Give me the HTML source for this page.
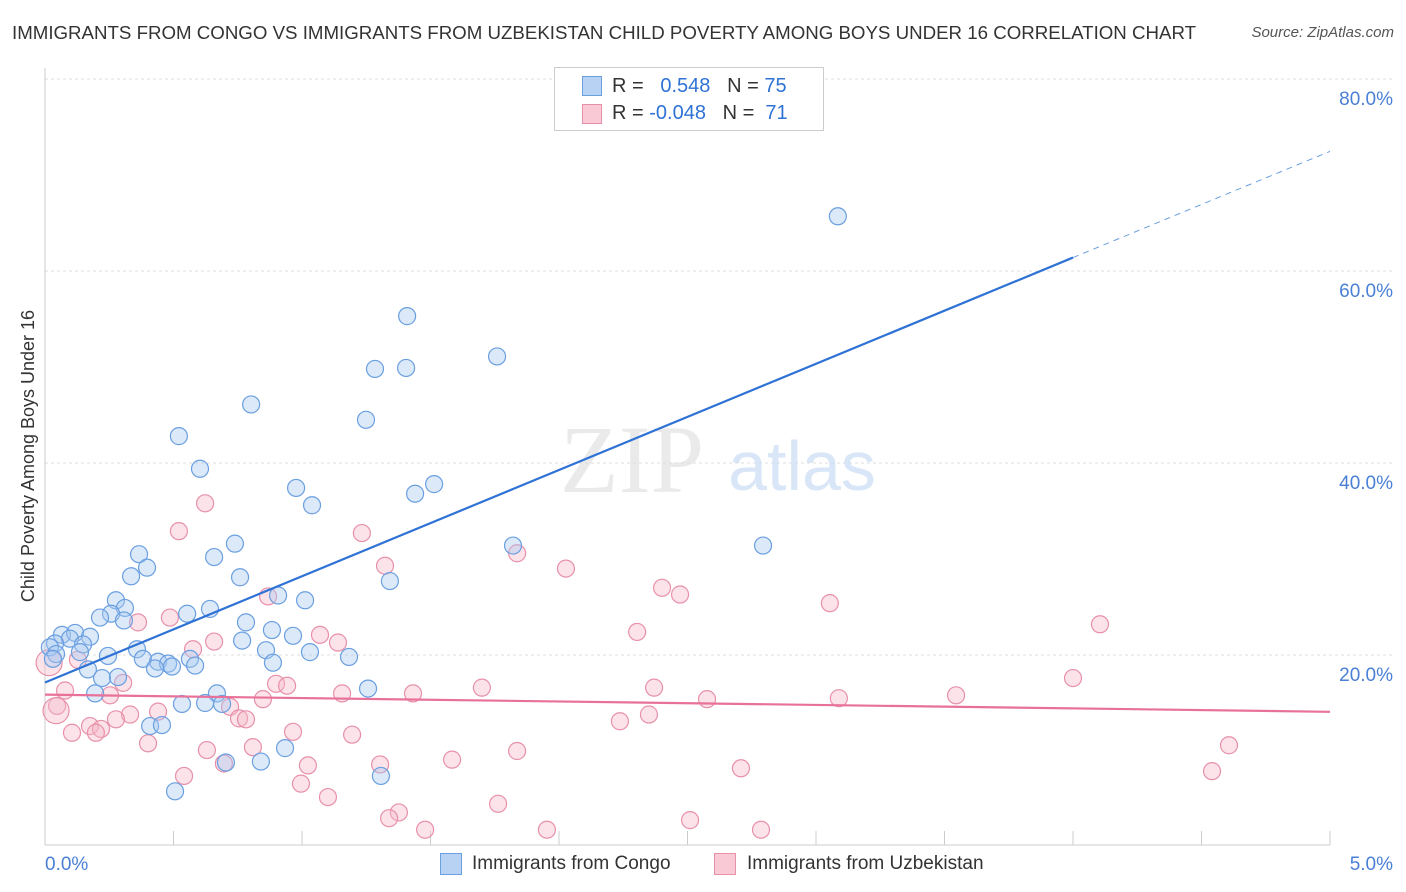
<!DOCTYPE html>
<html><head><meta charset="utf-8"><style>
body{margin:0;background:#fff;font-family:"Liberation Sans",sans-serif;}
#wrap{position:relative;width:1406px;height:892px;overflow:hidden;}
.t{position:absolute;white-space:nowrap;}
</style></head><body>
<div id="wrap">
<div class="t" style="left:12px;top:22px;font-size:18.7px;color:#333;">IMMIGRANTS FROM CONGO VS IMMIGRANTS FROM UZBEKISTAN CHILD POVERTY AMONG BOYS UNDER 16 CORRELATION CHART</div>
<div class="t" style="right:12px;top:24px;font-size:15px;color:#555;font-style:italic;">Source: ZipAtlas.com</div>
<svg id="svg" width="1406" height="892" style="position:absolute;left:0;top:0"></svg>
</div>
<script>
const xTickLabels=["0.0%","5.0%"];
const yTicks=[20,40,60,80];
const yTickLabels=["20.0%","40.0%","60.0%","80.0%"];
const congoX=[3.085,1.409,1.759,1.284,1.405,0.802,1.249,0.521,0.603,1.514,0.977,1.440,1.039,0.739,0.366,0.658,0.397,1.821,2.794,0.759,0.335,1.342,0.276,0.907,1.012,0.311,0.642,0.257,0.214,0.553,0.307,0.782,0.883,0.066,0.117,0.175,0.097,0.965,0.767,0.148,0.358,0.860,1.031,0.039,0.019,1.183,0.136,0.245,0.043,0.381,0.564,0.440,0.887,0.479,0.584,0.167,0.428,0.494,0.031,0.222,0.284,0.195,1.257,0.669,0.533,0.623,0.689,0.409,0.455,0.704,0.840,0.934,1.307,0.506];
const congoY=[65.7,55.3,51.1,49.8,49.9,46.1,44.5,42.8,39.4,37.8,37.4,36.8,35.6,31.6,30.5,30.2,29.1,31.4,31.4,28.1,28.2,27.7,25.7,26.2,25.7,24.9,24.8,24.3,23.9,24.3,23.6,23.4,22.6,22.1,22.3,21.9,21.7,22.0,21.5,21.1,20.6,20.5,20.3,21.2,20.8,19.8,20.3,19.9,20.1,19.6,19.6,19.3,19.2,19.1,18.9,18.5,18.6,18.8,19.6,17.6,17.7,16.0,16.5,16.0,14.9,15.0,14.9,12.6,12.7,8.8,8.9,10.3,7.4,5.8];
const uzbX=[0.623,0.521,1.233,1.837,1.323,2.027,2.401,2.471,0.868,3.054,0.486,0.362,4.105,2.304,1.070,0.658,1.140,0.576,0.128,0.304,4.000,0.899,0.942,1.432,1.156,1.700,2.370,0.253,3.545,2.576,3.089,0.078,0.848,0.440,0.720,0.331,0.755,0.782,0.047,0.965,0.276,0.175,0.218,0.105,0.198,1.195,0.401,0.630,0.809,1.837,2.237,2.350,4.607,1.584,0.696,1.023,1.304,2.708,4.541,0.541,0.996,1.101,1.763,1.377,1.339,2.510,1.479,1.953,2.786,0.016,0.043];
const uzbY=[35.8,32.9,32.7,30.6,29.3,29.0,27.0,26.3,26.1,25.4,23.9,23.4,23.2,22.4,22.1,21.4,21.3,20.6,19.5,17.1,17.6,17.0,16.8,16.0,16.0,16.6,16.6,15.8,15.8,15.4,15.5,16.3,15.4,14.1,14.6,13.8,13.4,13.3,14.7,12.0,13.3,12.6,12.3,11.9,11.9,11.7,10.8,10.1,10.4,10.0,13.1,13.8,10.6,9.1,8.7,8.5,8.6,8.2,7.9,7.4,6.6,5.2,4.5,3.6,3.0,2.8,1.8,1.8,1.8,19.2,14.2];
const X0=45,X1=1330,Y0=847,PY=9.6;
const sx=v=>X0+(X1-X0)*v/5, sy=v=>Y0-v*PY;
const svg=document.getElementById('svg');const NS='http://www.w3.org/2000/svg';
function mk(t,a,p){const e=document.createElementNS(NS,t);for(const k in a)e.setAttribute(k,a[k]);(p||svg).appendChild(e);return e;}
yTicks.forEach((v,i)=>{const g=mk('line',{x1:45,x2:1392,y1:sy(v),y2:sy(v),stroke:'#ddd','stroke-dasharray':'3,3'});


const t=mk('text',{x:1393,y:sy(v)+26,'text-anchor':'end','font-size':19,fill:'#4a7fd6','font-family':'Liberation Sans'});t.textContent=yTickLabels[i];

});
mk('line',{x1:45,x2:45,y1:68,y2:845,stroke:'#ccc'});
mk('line',{x1:45,x2:1330,y1:845,y2:845,stroke:'#ccc'});
for(let i=0;i<=10;i++){const l=mk('line',{x1:sx(i/2),x2:sx(i/2),y1:831,y2:845,stroke:'#ccc'});

}
[[0,45,'start'],[1,1393,'end']].forEach(([i,x,a])=>{const t=mk('text',{x:x,y:870,'text-anchor':a,'font-size':19,fill:'#4a7fd6','font-family':'Liberation Sans'});t.textContent=xTickLabels[i];

});
const yt=mk('text',{x:34,y:456,transform:'rotate(-90 34 456)','text-anchor':'middle','font-size':18,fill:'#333','font-family':'Liberation Sans'});yt.textContent='Child Poverty Among Boys Under 16';

const w1=mk('text',{x:632,y:492,'text-anchor':'middle','font-size':96,fill:'#ddd','font-family':'Liberation Serif','opacity':0.6});w1.textContent='ZIP';

const w2=mk('text',{x:802,y:490,'text-anchor':'middle','font-size':70,fill:'#c8dcf4','font-family':'Liberation Sans','opacity':0.7});w2.textContent='atlas';

function pts(xs,ys,fill,stroke,name){xs.forEach((x,i)=>{const r=(name==='uzbekistan-point'&&i>=69)?13:8.5;const c=mk('circle',{cx:sx(x),cy:sy(ys[i]),r:r,fill:fill,'fill-opacity':0.4,stroke:stroke,'stroke-width':1.2});

});}
pts(uzbX,uzbY,'#f5b8c8','#e890aa','uzbekistan-point');
pts(congoX,congoY,'#a8c8f0','#6a9fe0','congo-point');
function fit(xs,ys){const n=xs.length;let mx=0,my=0;xs.forEach((x,i)=>{mx+=x;my+=ys[i];});mx/=n;my/=n;let sxy=0,sxx=0;xs.forEach((x,i)=>{sxy+=(x-mx)*(ys[i]-my);sxx+=(x-mx)**2;});const b=sxy/sxx;return [my-b*mx,b];}
const [ca,cb]=fit(congoX,congoY);
const bl=mk('line',{x1:sx(0),y1:sy(ca),x2:sx(4),y2:sy(ca+cb*4),stroke:'#2f72d6','stroke-width':2.2});

const bd=mk('line',{x1:sx(4),y1:sy(ca+cb*4),x2:sx(5),y2:sy(ca+cb*5),stroke:'#6a9fe0','stroke-width':1,'stroke-dasharray':'6,5'});

const [ua,ub]=fit(uzbX,uzbY);
const pl=mk('line',{x1:sx(0),y1:sy(ua),x2:sx(5),y2:sy(ua+ub*5),stroke:'#e8719a','stroke-width':2.2});

</script>
<div style="position:absolute;left:554px;top:67px;width:268px;height:62px;border:1px solid #ccc;background:#fff;font-size:20px;">
 <div style="position:absolute;left:27px;top:8px;width:18px;height:18px;background:#b8d2f4;border:1px solid #6a9fe0"></div>
 <div class="t" style="left:57px;top:7px;color:#333">R = <span style="color:#2f72d6">&nbsp;&nbsp;0.548</span>&nbsp;&nbsp;&nbsp;N = <span style="color:#2f72d6">75</span></div>
 <div style="position:absolute;left:27px;top:36px;width:18px;height:18px;background:#f9cad6;border:1px solid #e890aa"></div>
 <div class="t" style="left:57px;top:34px;color:#333">R = <span style="color:#2f72d6">-0.048</span>&nbsp;&nbsp;&nbsp;N = <span style="color:#2f72d6">&nbsp;71</span></div>
</div>
<div style="position:absolute;left:440px;top:852px;font-size:19px;color:#333;">
 <div style="position:absolute;left:0;top:1px;width:20px;height:20px;background:#b8d2f4;border:1px solid #6a9fe0"></div>
 <div class="t" style="left:32px;top:1px">Immigrants from Congo</div>
 <div style="position:absolute;left:274px;top:1px;width:20px;height:20px;background:#f9cad6;border:1px solid #e890aa"></div>
 <div class="t" style="left:307px;top:1px">Immigrants from Uzbekistan</div>
</div>
</body></html>
